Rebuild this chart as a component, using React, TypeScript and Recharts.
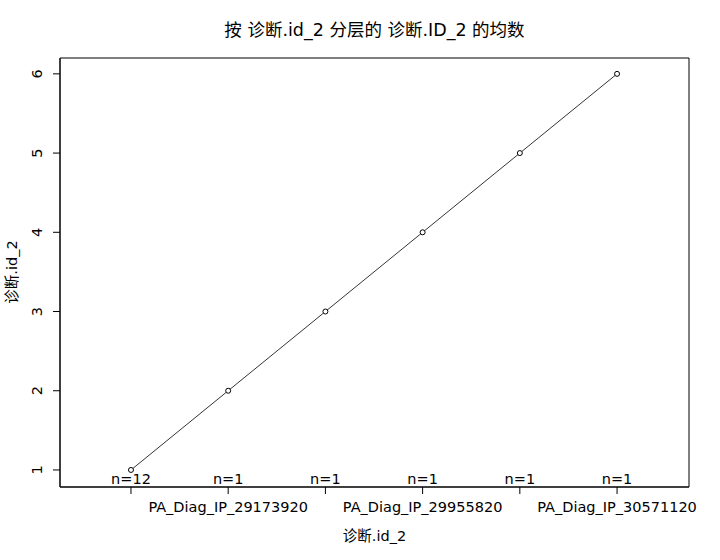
import React from 'react';
import { LineChart, Line, XAxis, YAxis, ReferenceArea } from 'recharts';

const positions = [1, 2, 3, 4, 5, 6];
const means = [1, 2, 3, 4, 5, 6];
const counts = [12, 1, 1, 1, 1, 1];
const tickLabels = ['', 'PA_Diag_IP_29173920', '', 'PA_Diag_IP_29955820', '', 'PA_Diag_IP_30571120'];
const yTicks = [1, 2, 3, 4, 5, 6];

const data = positions.map((x, i) => ({ x, mean: means[i], n: counts[i], label: tickLabels[i] }));

const FONT = '"DejaVu Sans", "Noto Sans CJK SC", sans-serif';
const X_DOMAIN: [number, number] = [0.27, 6.74];
const Y_DOMAIN: [number, number] = [0.785, 6.2];
const PLOT_BOTTOM = 487;

const XTick = (props: any) => {
  const { x, payload } = props;
  const i = positions.indexOf(payload.value);
  return (
    <g>
      <text x={x} y={PLOT_BOTTOM - 3} textAnchor="middle" fontSize={14.5} fontFamily={FONT} fill="#000">
        {`n=${counts[i]}`}
      </text>
      <text x={x} y={PLOT_BOTTOM + 25} textAnchor="middle" fontSize={14.5} fontFamily={FONT} fill="#000">
        {tickLabels[i]}
      </text>
    </g>
  );
};

const YTick = (props: any) => {
  const { y, payload } = props;
  const tx = 42;
  return (
    <text x={tx} y={y} transform={`rotate(-90, ${tx}, ${y})`} textAnchor="middle" fontSize={14.5} fontFamily={FONT} fill="#000">
      {payload.value}
    </text>
  );
};

const App: React.FC = () => {
  return (
    <div style={{ position: 'absolute', left: 0, top: 0, width: 720, height: 560, background: '#fff' }}>
      <svg width={720} height={560} style={{ position: 'absolute', left: 0, top: 0 }}>
        <text x={374.5} y={36} textAnchor="middle" fontSize={17.5} fontFamily={FONT} fill="#000">
          按 诊断.id_2 分层的 诊断.ID_2 的均数
        </text>
        <text x={374.5} y={541} textAnchor="middle" fontSize={14.5} fontFamily={FONT} fill="#000">
          诊断.id_2
        </text>
        <text x={17} y={272} transform="rotate(-90, 17, 272)" textAnchor="middle" fontSize={14.5} fontFamily={FONT} fill="#000">
          诊断.id_2
        </text>
      </svg>
      <div style={{ position: 'absolute', left: 0, top: 0 }}>
        <LineChart width={720} height={560} data={data} margin={{ top: 58, right: 31, bottom: 0, left: 0 }}>
          <XAxis
            dataKey="x"
            type="number"
            domain={X_DOMAIN}
            ticks={positions}
            allowDataOverflow
            tickSize={7}
            tickLine={{ stroke: '#000' }}
            axisLine={{ stroke: '#000' }}
            tick={<XTick />}
            interval={0}
            height={73}
          />
          <YAxis
            type="number"
            domain={Y_DOMAIN}
            ticks={yTicks}
            allowDataOverflow
            width={60}
            tickSize={7}
            tickLine={{ stroke: '#000' }}
            axisLine={{ stroke: '#000' }}
            tick={<YTick />}
            interval={0}
          />
          <ReferenceArea x1={X_DOMAIN[0]} x2={X_DOMAIN[1]} y1={Y_DOMAIN[0]} y2={Y_DOMAIN[1]} fill="none" stroke="#000" strokeWidth={1} fillOpacity={0} />
          <Line
            dataKey="mean"
            stroke="#000"
            strokeWidth={0.8}
            isAnimationActive={false}
            dot={{ r: 2.5, stroke: '#000', strokeWidth: 1, fill: '#fff' }}
            activeDot={false}
          />
        </LineChart>
      </div>
    </div>
  );
};

export default App;
